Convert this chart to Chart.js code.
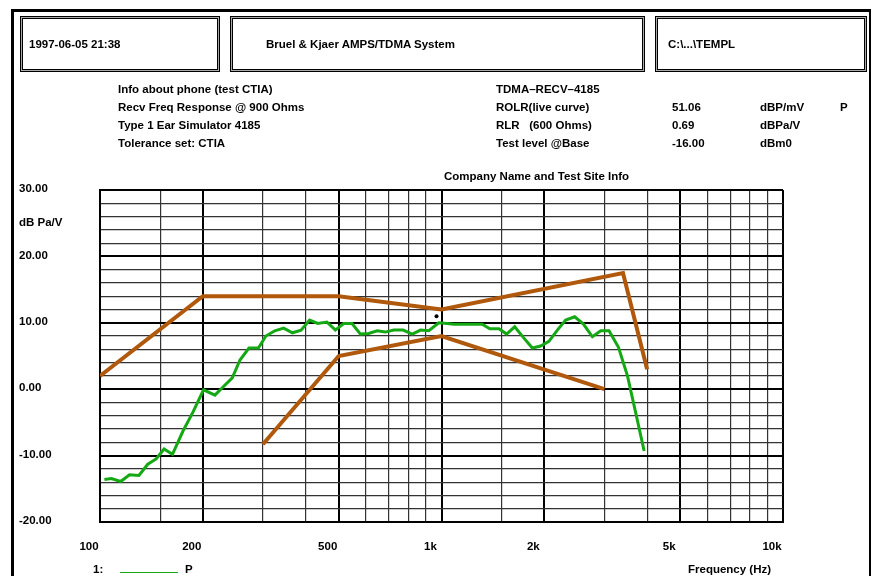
<!DOCTYPE html>
<html>
<head>
<meta charset="utf-8">
<script src="https://cdn.jsdelivr.net/npm/chart.js@4"></script>
<style>
  body { margin: 0; background: #fff; overflow: hidden; }
  #page { position: relative; width: 872px; height: 576px; overflow: hidden; font: bold 11.5px "Liberation Sans", Arial, sans-serif; color: #000; }
  #page canvas { position: absolute; left: 0; top: 0; }
  .t { position: absolute; white-space: pre; line-height: 14px; }
  .box { position: absolute; top: 16px; height: 56px; box-sizing: border-box; border: 1px solid #000;
         box-shadow: inset 0 0 0 1px #aaa, inset 0 0 0 2px #000; }
  #frame { position: absolute; left: 11px; top: 9px; width: 860px; height: 600px; box-sizing: border-box;
           border-top: 3px solid #000; border-left: 3px solid #000; border-right: 2px solid #000; }
</style>
</head>
<body>
<div id="page">
  <canvas id="resp" width="872" height="576"></canvas>
  <div id="frame"></div>
  <div class="box" style="left:20px;width:200px"></div>
  <div class="box" style="left:230px;width:415px"></div>
  <div class="box" style="left:655px;width:212px"></div>
  <div class="t" style="left:29px;top:37px">1997-06-05 21:38</div>
  <div class="t" style="left:266px;top:37px">Bruel &amp; Kjaer AMPS/TDMA System</div>
  <div class="t" style="left:668px;top:37px">C:\...\TEMPL</div>

  <div class="t" style="left:118px;top:82px">Info about phone (test CTIA)</div>
  <div class="t" style="left:118px;top:100px">Recv Freq Response @ 900 Ohms</div>
  <div class="t" style="left:118px;top:118px">Type 1 Ear Simulator 4185</div>
  <div class="t" style="left:118px;top:136px">Tolerance set: CTIA</div>

  <div class="t" style="left:496px;top:82px">TDMA–RECV–4185</div>
  <div class="t" style="left:496px;top:100px">ROLR(live curve)</div>
  <div class="t" style="left:496px;top:118px">RLR   (600 Ohms)</div>
  <div class="t" style="left:496px;top:136px">Test level @Base</div>
  <div class="t" style="left:672px;top:100px">51.06</div>
  <div class="t" style="left:672px;top:118px">0.69</div>
  <div class="t" style="left:672px;top:136px">-16.00</div>
  <div class="t" style="left:760px;top:100px">dBP/mV</div>
  <div class="t" style="left:760px;top:118px">dBPa/V</div>
  <div class="t" style="left:760px;top:136px">dBm0</div>
  <div class="t" style="left:840px;top:100px">P</div>

  <div class="t" style="left:444px;top:169px">Company Name and Test Site Info</div>
  <div class="t" style="left:19px;top:215px">dB Pa/V</div>
  <div class="t" style="left:688px;top:562px">Frequency (Hz)</div>
  <div class="t" style="left:93px;top:562px">1:</div>
  <div style="position:absolute;left:120px;top:572px;width:58px;height:1px;background:#14a814"></div>
  <div class="t" style="left:185px;top:562px">P</div>
</div>

<script>
// measured curve (Hz / dB Pa/V)
const freqs = [103, 108, 115, 122, 130, 138, 146, 154, 163, 175, 187, 201, 217, 230, 244, 257, 273, 291, 306, 325,
  345, 366, 388, 411, 434, 462, 489, 517, 547, 579, 612, 648, 685, 725, 772, 821, 868, 918, 982, 1039,
  1087, 1163, 1240, 1316, 1385, 1473, 1551, 1638, 1736, 1845, 1951, 2063, 2184, 2310, 2455, 2604, 2766, 2926, 3094, 3298,
  3504, 3706, 3921];
const levels = [-13.6, -13.45, -13.9, -12.9, -13.0, -11.3, -10.5, -9.0, -9.8, -6.3, -3.5, -0.1, -0.9, 0.4, 1.7, 4.4, 6.2, 6.2, 8.0, 8.8,
  9.2, 8.5, 8.9, 10.4, 9.9, 10.1, 8.9, 9.9, 9.9, 8.3, 8.4, 8.8, 8.6, 8.9, 8.9, 8.3, 8.9, 8.8, 10.0, 9.9,
  9.8, 9.8, 9.8, 9.8, 9.1, 9.1, 8.3, 9.4, 7.8, 6.2, 6.5, 7.2, 8.9, 10.4, 10.9, 9.8, 7.9, 8.8, 8.8, 6.3,
  2.0, -3.6, -9.3];

// CTIA tolerance mask
const upperFreqs = [100, 200, 500, 1000, 3400, 4000];
const upperLevels = [2, 14, 14, 12, 17.5, 3];
const lowerFreqs = [300, 500, 1000, 3000];
const lowerLevels = [-8.3, 5, 8, 0];

// marker dot
const markFreqs = [967];
const markLevels = [11.0];

// axes
const xGrid = [100, 150, 200, 300, 400, 500, 600, 700, 800, 900, 1000, 1500, 2000, 3000, 4000, 5000, 6000, 7000, 8000, 9000, 10000];
const xLabels = { 100: "100", 200: "200", 500: "500", 1000: "1k", 2000: "2k", 5000: "5k", 10000: "10k" };
const xMajor = [100, 200, 500, 1000, 2000, 5000, 10000];

const pts = (xs, ys) => xs.map((x, i) => ({ x: x, y: ys[i] }));

const brown = "#b0580c";
const tickFont = { family: "Liberation Sans", size: 11.5, weight: "bold" };

new Chart(document.getElementById("resp"), {
  type: "line",
  data: {
    datasets: [
      { data: pts(upperFreqs, upperLevels), borderColor: brown, borderWidth: 4, pointRadius: 0 },
      { data: pts(lowerFreqs, lowerLevels), borderColor: brown, borderWidth: 4, pointRadius: 0 },
      { data: pts(freqs, levels), borderColor: "#14a814", borderWidth: 3, pointRadius: 0 },
      { data: pts(markFreqs, markLevels), showLine: false, pointRadius: 2, pointBackgroundColor: "#000", pointBorderWidth: 0 }
    ]
  },
  options: {
    responsive: false,
    animation: false,
    layout: { padding: { top: 190, right: 89, left: 19, bottom: 0 } },
    plugins: { legend: { display: false }, tooltip: { enabled: false } },
    elements: { line: { tension: 0 } },
    scales: {
      x: {
        type: "logarithmic",
        min: 100,
        max: 10000,
        afterBuildTicks: (scale) => { scale.ticks = xGrid.map(v => ({ value: v })); },
        afterFit: (scale) => { scale.height = 54; },
        ticks: {
          autoSkip: false,
          maxRotation: 0,
          padding: 18,
          labelOffset: -11,
          color: "#000",
          font: tickFont,
          callback: (v) => xLabels[v] || ""
        },
        grid: {
          drawTicks: false,
          color: (c) => xMajor.includes(c.tick.value) ? "#000" : "#333",
          lineWidth: (c) => xMajor.includes(c.tick.value) ? 2 : 1.2
        },
        border: { display: true, color: "#000", width: 2 }
      },
      y: {
        min: -20,
        max: 30,
        afterFit: (scale) => { scale.width = 81; },
        ticks: {
          stepSize: 2,
          autoSkip: false,
          crossAlign: "far",
          labelOffset: -1,
          color: "#000",
          font: tickFont,
          callback: (v) => v % 10 === 0 ? v.toFixed(2) : ""
        },
        grid: {
          drawTicks: false,
          color: (c) => c.tick.value % 10 === 0 ? "#000" : "#333",
          lineWidth: (c) => c.tick.value % 10 === 0 ? 2 : 1.2
        },
        border: { display: true, color: "#000", width: 2 }
      }
    }
  }
});
</script>
</body>
</html>
